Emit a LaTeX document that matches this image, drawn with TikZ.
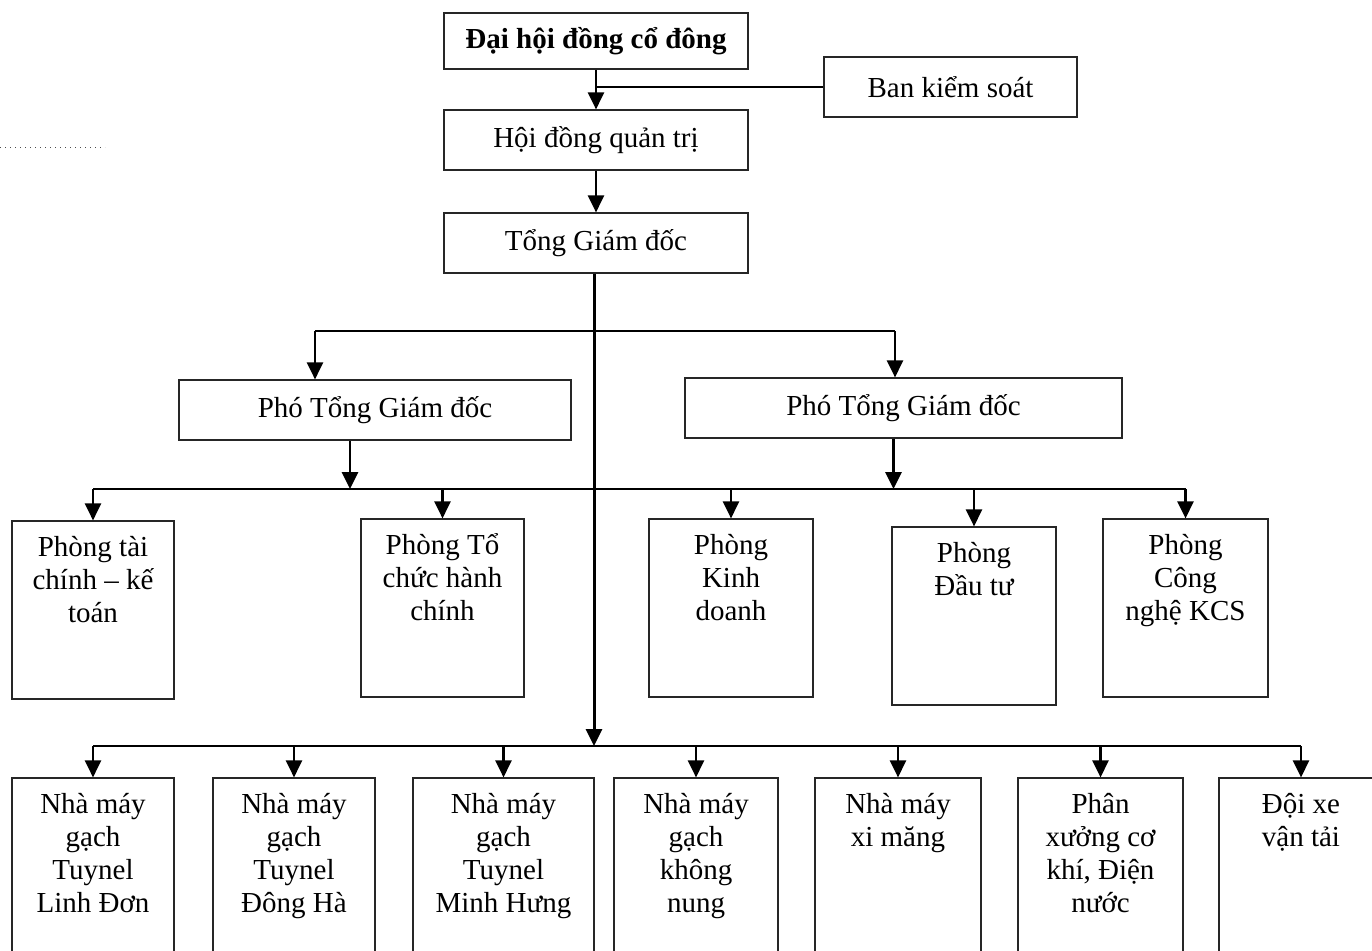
\documentclass[tikz,border=0pt]{standalone}
\usepackage{fontspec}
\setmainfont{Liberation Serif}
\usetikzlibrary{arrows.meta}
\begin{document}
\begin{tikzpicture}[x=0.5pt,y=-0.5pt,
  txt/.style={font=\fontsize{14.5}{16.5}\selectfont},
  box/.style={draw=black!85, line width=0.6pt, inner sep=0pt, txt},
  lbl/.style={anchor=north, inner sep=0pt, align=center, txt, yshift=-4pt},
  arr/.style={line width=1.35pt, -{Triangle[width=8pt,length=8.5pt]}},
  thinline/.style={line width=0.7pt},
]
\useasboundingbox (0,0) rectangle (1372,950);
\clip (0,0) rectangle (1372,950);

% top levels
\node[box, minimum width=152pt, minimum height=28pt, font=\bfseries\fontsize{14.5}{16.5}\selectfont] (T1) at (596,41) {Đại hội đồng cổ đông};
\node[box, minimum width=126.5pt, minimum height=30pt] (BKS) at (950.5,87) {Ban kiểm soát};
\node[box, minimum width=152pt, minimum height=30pt] (HDQT) at (596,140) {Hội đồng quản trị};
\node[box, minimum width=152pt, minimum height=30pt] (TGD) at (596,243) {Tổng Giám đốc};

% deputies
\node[box, minimum width=196pt, minimum height=30pt] (PL) at (375,410) {Phó Tổng Giám đốc};
\node[box, minimum width=218.5pt, minimum height=30pt] (PR) at (903.5,408) {Phó Tổng Giám đốc};

% departments
\node[box, minimum width=81pt, minimum height=89pt, label={[lbl]north:{\rule{0pt}{14pt}Phòng tài\\chính – kế\\toán}}] (D1) at (93,610) {};
\node[box, minimum width=81.5pt, minimum height=89pt, label={[lbl]north:{\rule{0pt}{14pt}Phòng Tổ\\chức hành\\chính}}] (D2) at (442.5,608) {};
\node[box, minimum width=82pt, minimum height=89pt, label={[lbl]north:{\rule{0pt}{14pt}Phòng\\Kinh\\doanh}}] (D3) at (731,608) {};
\node[box, minimum width=82pt, minimum height=89pt, label={[lbl]north:{\rule{0pt}{14pt}Phòng\\Đầu tư}}] (D4) at (974,616) {};
\node[box, minimum width=82.5pt, minimum height=89pt, label={[lbl]north:{\rule{0pt}{14pt}Phòng\\Công\\nghệ KCS}}] (D5) at (1185.5,608) {};

% units
\node[box, minimum width=81pt, minimum height=111pt, label={[lbl]north:{\rule{0pt}{14pt}Nhà máy\\gạch\\Tuynel\\Linh Đơn}}] (B1) at (93,889) {};
\node[box, minimum width=81pt, minimum height=111pt, label={[lbl]north:{\rule{0pt}{14pt}Nhà máy\\gạch\\Tuynel\\Đông Hà}}] (B2) at (294,889) {};
\node[box, minimum width=90.5pt, minimum height=111pt, label={[lbl]north:{\rule{0pt}{14pt}Nhà máy\\gạch\\Tuynel\\Minh Hưng}}] (B3) at (503.5,889) {};
\node[box, minimum width=82pt, minimum height=111pt, label={[lbl]north:{\rule{0pt}{14pt}Nhà máy\\gạch\\không\\nung}}] (B4) at (696,889) {};
\node[box, minimum width=83pt, minimum height=111pt, label={[lbl]north:{\rule{0pt}{14pt}Nhà máy\\xi măng}}] (B5) at (898,889) {};
\node[box, minimum width=82.5pt, minimum height=111pt, label={[lbl]north:{\rule{0pt}{14pt}Phân\\xưởng cơ\\khí, Điện\\nước}}] (B6) at (1100.5,889) {};
\node[box, minimum width=82pt, minimum height=111pt, label={[lbl]north:{\rule{0pt}{14pt}Đội xe\\vận tải}}] (B7) at (1301,889) {};

% junction coordinates
\coordinate (pl) at (315,331);
\coordinate (pr) at (895,331);
\coordinate (db) at (596,489);
\coordinate (bb) at (596,746);

% connectors top
\draw[arr] (T1.south) -- (HDQT.north);
\draw[thinline] (BKS.west) -- (BKS.west -| T1.south);
\draw[arr] (HDQT.south) -- (TGD.north);
\draw[arr, line width=1.5pt] ([xshift=-1pt]TGD.south) -- ([xshift=-1pt]TGD.south |- bb);

% deputies
\draw[thinline] (pl) -- (pr);
\draw[arr] (pl) -- (pl |- PL.north);
\draw[arr] (pr) -- (pr |- PR.north);

% departments
\draw[arr] ([xshift=-12.5pt]PL.south) -- ([xshift=-12.5pt]PL.south |- db);
\draw[arr] ([xshift=-5pt]PR.south) -- ([xshift=-5pt]PR.south |- db);
\draw[thinline] (D1.north |- db) -- (D5.north |- db);
\foreach \n in {D1,D2,D3,D4,D5}
  \draw[arr] (\n.north |- db) -- (\n.north);

% units
\draw[thinline] (B1.north |- bb) -- (B7.north |- bb);
\foreach \n in {B1,B2,B3,B4,B5,B6,B7}
  \draw[arr] (\n.north |- bb) -- (\n.north);

% stray dotted rule at left
\draw[dotted, line width=0.5pt, black!70] (0,147) -- (105,147);
\end{tikzpicture}
\end{document}
